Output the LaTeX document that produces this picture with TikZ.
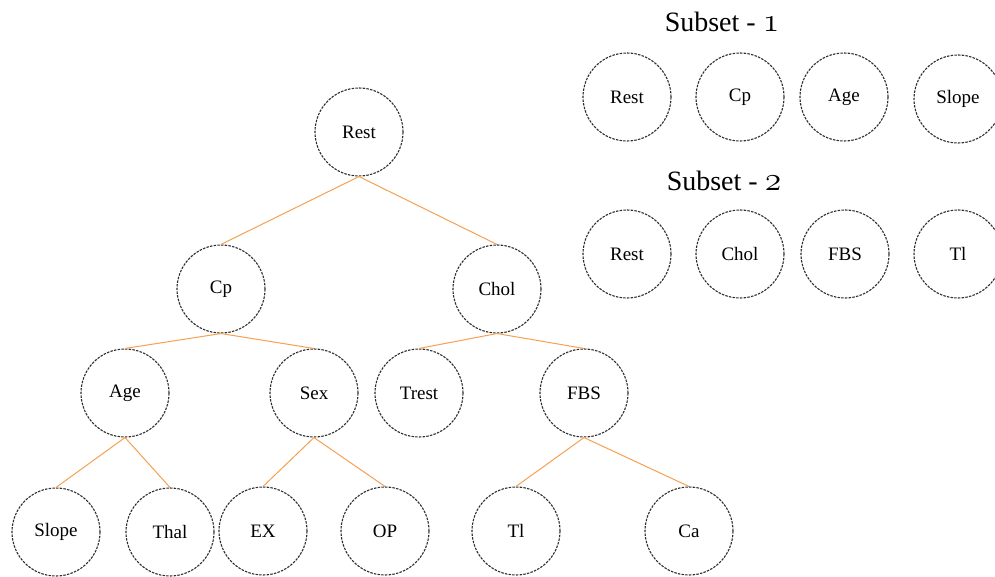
\documentclass[tikz,border=0pt]{standalone}
\usepackage{fontspec}
\setmainfont{Liberation Serif}
\definecolor{edgeor}{RGB}{246,160,80}
\definecolor{circ}{RGB}{45,45,45}
\newcommand{\osnum}[1]{\scalebox{1.35}{\usefont{OML}{cmm}{m}{it}#1}}
\tikzset{
  nd/.style={circle, draw=circ, dash pattern=on 2.5pt off 1.2pt, line width=1.1pt, minimum size=88pt, inner sep=0pt, font=\fontsize{19}{22}\selectfont},
  ed/.style={draw=edgeor, line width=1pt},
  ttl/.style={font=\fontsize{28}{32}\selectfont, inner sep=0pt}
}
\begin{document}
\begin{tikzpicture}[x=1pt,y=-1pt]
\useasboundingbox (0,0) rectangle (995,577);
% tree
\node[nd] (rest) at (359,132) {Rest};
\node[nd] (cp) at (221,289) {Cp};
\node[nd] (chol) at (497,289) {Chol};
\node[nd] (age) at (125,393) {Age};
\node[nd] (sex) at (314,393) {Sex};
\node[nd] (trest) at (419,393) {Trest};
\node[nd] (fbs) at (584,393) {FBS};
\node[nd] (slope) at (56,532) {Slope};
\node[nd] (thal) at (170,532) {Thal};
\node[nd] (ex) at (263,531) {EX};
\node[nd] (op) at (385,531) {OP};
\node[nd] (tl) at (516,531) {Tl};
\node[nd] (ca) at (689,531) {Ca};
\draw[ed] (rest.south) -- (cp.north);
\draw[ed] (rest.south) -- (chol.north);
\draw[ed] (cp.south) -- (age.north);
\draw[ed] (cp.south) -- (sex.north);
\draw[ed] (chol.south) -- (trest.north);
\draw[ed] (chol.south) -- (fbs.north);
\draw[ed] (age.south) -- (slope.north);
\draw[ed] (age.south) -- (thal.north);
\draw[ed] (sex.south) -- (ex.north);
\draw[ed] (sex.south) -- (op.north);
\draw[ed] (fbs.south) -- (tl.north);
\draw[ed] (fbs.south) -- (ca.north);
% subsets
\node[ttl] (t1) at (722,22) {Subset - \osnum{1}};
\node[nd] (s1a) at (627,97) {Rest};
\node[nd] (s1b) at (740,97) {Cp};
\node[nd] (s1c) at (844,97) {Age};
\node[nd] (s1d) at (958,99) {Slope};
\node[ttl] (t2) at (724,181) {Subset - \osnum{2}};
\node[nd] (s2a) at (627,254) {Rest};
\node[nd] (s2b) at (740,254) {Chol};
\node[nd] (s2c) at (845,254) {FBS};
\node[nd] (s2d) at (958,254) {Tl};
\end{tikzpicture}
\end{document}
